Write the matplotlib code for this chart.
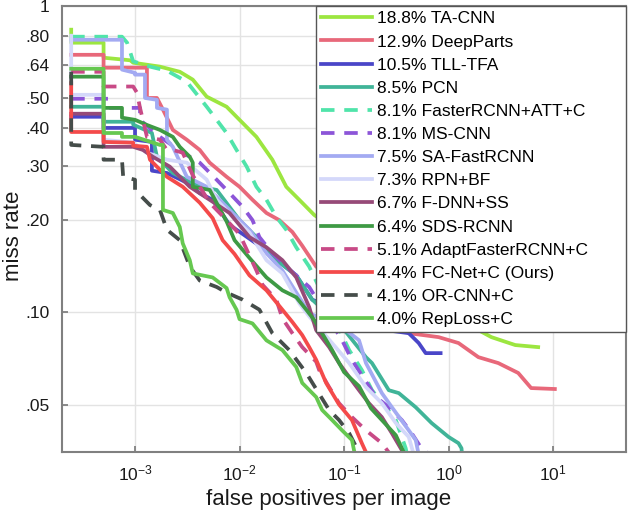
import matplotlib
matplotlib.use("Agg")
import matplotlib.pyplot as plt

plt.rcParams['font.family'] = ['Liberation Sans', 'DejaVu Sans']
plt.rcParams['mathtext.default'] = 'regular'

# miss rate vs fppi curves
TA_CNN_X = [2.45e-4, 2.45e-4, 5.0e-4, 5.0e-4, 9.0e-4, 9.6e-4, 1.73e-3, 2.68e-3, 3.57e-3, 4.85e-3, 7.52e-3, 1.0e-2,
            1.45e-2, 2.06e-2, 2.8e-2, 3.73e-2, 5.18e-2, 1.93, 2.57, 4.35, 7.2]
TA_CNN_Y = [0.837, 0.759, 0.759, 0.678, 0.665, 0.653, 0.634, 0.61, 0.575, 0.506, 0.469, 0.425,
            0.374, 0.315, 0.257, 0.233, 0.208, 0.0875, 0.083, 0.0782, 0.077]

DEEPPARTS_X = [2.45e-4, 5.0e-4, 5.0e-4, 1.3e-3, 1.3e-3, 1.62e-3, 1.85e-3, 2.3e-3, 3.13e-3, 4.16e-3, 5.18e-3, 7.52e-3,
               1.0e-2, 1.33e-2, 1.81e-2, 2.4e-2, 3.2e-2, 3.98e-2, 5.41e-2, 0.416, 0.803, 1.245, 1.93, 2.99, 4.64,
               6.17, 10.4]
DEEPPARTS_Y = [0.693, 0.693, 0.629, 0.629, 0.501, 0.501, 0.459, 0.394, 0.366, 0.339, 0.308, 0.277,
               0.257, 0.233, 0.211, 0.2, 0.183, 0.165, 0.141, 0.0855, 0.083, 0.0794, 0.0714, 0.0683, 0.0634,
               0.0566, 0.0562]

TLL_X = [2.45e-4, 5.0e-4, 5.0e-4, 1.0e-3, 1.0e-3, 1.45e-3, 1.45e-3, 2.02e-3, 3.13e-3, 4.16e-3, 5.53e-3, 8.03e-3,
         1.55e-2, 2.4e-2, 3.49e-2, 4.96e-2, 0.251, 0.416, 0.518, 0.604, 0.839]
TLL_Y = [0.435, 0.435, 0.4, 0.4, 0.366, 0.36, 0.29, 0.285, 0.265, 0.245, 0.233, 0.193,
         0.165, 0.146, 0.132, 0.11, 0.0875, 0.0855, 0.0794, 0.0736, 0.0736]

PCN_X = [2.45e-4, 5.0e-4, 5.0e-4, 9.6e-4, 9.6e-4, 1.45e-3, 1.62e-3, 2.3e-3, 4.16e-3, 6.04e-3, 1.0e-2, 1.55e-2,
         2.25e-2, 3.49e-2, 4.96e-2, 9.57e-2, 0.162, 0.185, 0.268, 0.334, 0.485, 0.689, 1.0, 1.245, 1.33, 1.36]
PCN_Y = [0.469, 0.469, 0.419, 0.419, 0.41, 0.385, 0.322, 0.285, 0.257, 0.251, 0.2, 0.172,
         0.148, 0.132, 0.11, 0.0895, 0.0714, 0.0683, 0.0557, 0.0545, 0.049, 0.0435, 0.0392, 0.0374, 0.036, 0.033]

ATT_X = [2.45e-4, 7.5e-4, 8.4e-4, 9.6e-4, 1.39e-3, 2.02e-3, 3.13e-3, 4.85e-3, 6.04e-3, 7.52e-3, 9.36e-3, 1.17e-2,
         1.45e-2, 1.81e-2, 2.25e-2, 2.8e-2, 3.49e-2, 4.64e-2, 0.112, 0.148, 0.185, 0.251, 0.313, 0.389, 0.41]
ATT_Y = [0.794, 0.794, 0.759, 0.66, 0.634, 0.615, 0.566, 0.469, 0.425, 0.385, 0.339, 0.299,
         0.257, 0.233, 0.205, 0.186, 0.163, 0.141, 0.0753, 0.0648, 0.0557, 0.049, 0.0445, 0.036, 0.033]

MSCNN_X = [2.45e-4, 5.8e-4, 5.8e-4, 1.116e-3, 1.116e-3, 1.73e-3, 2.86e-3, 4.16e-3, 6.04e-3, 8.03e-3, 1.07e-2,
           1.33e-2, 1.55e-2, 2.06e-2, 2.8e-2, 4.64e-2, 9.57e-2, 0.119, 0.202, 0.268, 0.357, 0.444, 0.541, 0.752]
MSCNN_Y = [0.498, 0.498, 0.465, 0.465, 0.425, 0.374, 0.332, 0.308, 0.271, 0.245, 0.221,
           0.2, 0.176, 0.156, 0.141, 0.121, 0.0811, 0.0699, 0.0529, 0.049, 0.0445, 0.0403, 0.0363, 0.033]

SAFAST_X = [2.45e-4, 7.5e-4, 7.5e-4, 1.0e-3, 1.0e-3, 1.245e-3, 1.245e-3, 1.62e-3, 1.62e-3, 2.02e-3, 2.02e-3,
            2.3e-3, 3.13e-3, 4.85e-3, 8.58e-3, 1.245e-2, 1.81e-2, 2.57e-2, 3.73e-2, 4.64e-2, 0.1045, 0.139,
            0.162, 0.23, 0.287, 0.416, 0.485, 0.53]
SAFAST_Y = [0.776, 0.776, 0.62, 0.605, 0.597, 0.597, 0.501, 0.494, 0.465, 0.459, 0.366,
            0.347, 0.277, 0.257, 0.211, 0.186, 0.156, 0.137, 0.112, 0.0995, 0.0875, 0.0811,
            0.0683, 0.0545, 0.049, 0.0412, 0.0383, 0.033]

RPNBF_X = [2.45e-4, 2.45e-4, 5.0e-4, 5.0e-4, 9.6e-4, 1.3e-3, 2.02e-3, 3.13e-3, 4.85e-3, 6.04e-3, 8.58e-3,
           1.245e-2, 1.81e-2, 2.57e-2, 3.73e-2, 4.64e-2, 0.112, 0.162, 0.23, 0.313, 0.416, 0.48]
RPNBF_Y = [0.8, 0.513, 0.513, 0.366, 0.358, 0.332, 0.315, 0.308, 0.271, 0.233, 0.205,
           0.182, 0.148, 0.134, 0.107, 0.097, 0.0683, 0.057, 0.0505, 0.0435, 0.0392, 0.033]

FDNN_X = [2.45e-4, 5.0e-4, 5.0e-4, 9.6e-4, 1.19e-3, 1.48e-3, 2.15e-3, 3.34e-3, 5.18e-3, 8.03e-3, 1.245e-2,
          1.81e-2, 2.57e-2, 3.49e-2, 4.64e-2, 5.41e-2, 7.2e-2, 8.96e-2, 0.112, 0.139, 0.173, 0.23, 0.287, 0.357, 0.37]
FDNN_Y = [0.445, 0.445, 0.347, 0.347, 0.339, 0.322, 0.299, 0.257, 0.233, 0.211, 0.176,
          0.163, 0.148, 0.13, 0.104, 0.0875, 0.077, 0.0683, 0.0615, 0.0557, 0.0505, 0.0455, 0.0403, 0.0355, 0.033]

SDS_X = [2.45e-4, 5.0e-4, 5.0e-4, 7.5e-4, 7.5e-4, 1.0e-3, 1.3e-3, 1.73e-3, 2.3e-3, 2.68e-3, 3.34e-3, 3.57e-3,
         3.57e-3, 5.18e-3, 7.52e-3, 8.96e-3, 1.245e-2, 1.81e-2, 2.57e-2, 3.49e-2, 4.35e-2, 5.18e-2, 7.69e-2,
         0.1, 0.139, 0.181, 0.23, 0.313, 0.373, 0.38]
SDS_Y = [0.588, 0.588, 0.465, 0.465, 0.432, 0.425, 0.409, 0.394, 0.374, 0.347, 0.322, 0.308,
         0.257, 0.251, 0.198, 0.172, 0.1505, 0.13, 0.118, 0.112, 0.102, 0.0944, 0.0753,
         0.0638, 0.0574, 0.0486, 0.0445, 0.0397, 0.0349, 0.033]

ADAPT_X = [2.45e-4, 5.0e-4, 5.0e-4, 9.6e-4, 1.045e-3, 1.116e-3, 1.3e-3, 1.73e-3, 2.02e-3, 2.3e-3, 2.86e-3,
           3.57e-3, 5.18e-3, 7.52e-3, 1.0e-2, 1.45e-2, 1.66e-2, 2.25e-2, 2.57e-2, 3.2e-2, 3.98e-2, 5.41e-2,
           5.78e-2, 7.2e-2, 8.96e-2, 0.119, 0.162, 0.23, 0.268, 0.275]
ADAPT_Y = [0.61, 0.61, 0.546, 0.546, 0.521, 0.465, 0.374, 0.366, 0.339, 0.339, 0.332,
           0.28, 0.228, 0.2, 0.18, 0.137, 0.123, 0.11, 0.0955, 0.0855, 0.077, 0.069,
           0.0648, 0.057, 0.0505, 0.0455, 0.0412, 0.0374, 0.0349, 0.033]

FCNET_X = [2.45e-4, 2.45e-4, 5.0e-4, 5.0e-4, 9.6e-4, 9.6e-4, 1.3e-3, 1.39e-3, 2.02e-3, 2.86e-3, 4.16e-3, 5.53e-3,
           6.89e-3, 8.96e-3, 1.245e-2, 1.81e-2, 2.57e-2, 3.2e-2, 3.98e-2, 4.64e-2, 5.41e-2, 6.74e-2, 8.96e-2,
           0.119, 0.148, 0.175]
FCNET_Y = [0.56, 0.388, 0.388, 0.36, 0.358, 0.35, 0.347, 0.315, 0.277, 0.257, 0.228, 0.203,
           0.172, 0.155, 0.132, 0.118, 0.102, 0.093, 0.0843, 0.077, 0.07, 0.0588, 0.05,
           0.0445, 0.0374, 0.033]

ORCNN_X = [2.45e-4, 2.45e-4, 5.0e-4, 5.0e-4, 7.5e-4, 7.7e-4, 1.0e-3, 1.0e-3, 1.39e-3, 1.73e-3, 2.02e-3, 2.68e-3,
           3.34e-3, 4.16e-3, 6.04e-3, 7.52e-3, 1.07e-2, 1.55e-2, 2.06e-2, 2.99e-2, 4.35e-2, 5.41e-2, 7.2e-2,
           8.96e-2, 0.112, 0.139, 0.142]
ORCNN_Y = [0.61, 0.352, 0.347, 0.315, 0.315, 0.277, 0.271, 0.251, 0.224, 0.216, 0.186, 0.172,
           0.141, 0.127, 0.121, 0.116, 0.11, 0.102, 0.0855, 0.0753, 0.0634, 0.0562, 0.048,
           0.0445, 0.0403, 0.0349, 0.033]

REPLOSS_X = [2.45e-4, 5.0e-4, 5.0e-4, 7.5e-4, 7.5e-4, 1.0e-3, 1.73e-3, 1.85e-3, 1.85e-3, 2.3e-3, 2.68e-3, 2.86e-3,
             3.34e-3, 3.57e-3, 5.53e-3, 7.52e-3, 8.03e-3, 9.36e-3, 1.0e-2, 1.33e-2, 1.81e-2, 2.57e-2, 3.49e-2,
             3.98e-2, 5.41e-2, 6.17e-2, 7.69e-2, 9.57e-2, 0.119, 0.13]
REPLOSS_Y = [0.624, 0.624, 0.385, 0.385, 0.374, 0.374, 0.352, 0.352, 0.216, 0.211, 0.19, 0.168,
             0.148, 0.134, 0.13, 0.12, 0.112, 0.102, 0.095, 0.092, 0.081, 0.0753, 0.0663,
             0.0588, 0.0529, 0.048, 0.0445, 0.0412, 0.0383, 0.033]

LABELS = ['18.8% TA-CNN', '12.9% DeepParts', '10.5% TLL-TFA', '8.5% PCN', '8.1% FasterRCNN+ATT+C',
          '8.1% MS-CNN', '7.5% SA-FastRCNN', '7.3% RPN+BF', '6.7% F-DNN+SS', '6.4% SDS-RCNN',
          '5.1% AdaptFasterRCNN+C', '4.4% FC-Net+C (Ours)', '4.1% OR-CNN+C', '4.0% RepLoss+C']
CURVES = [(TA_CNN_X, TA_CNN_Y), (DEEPPARTS_X, DEEPPARTS_Y), (TLL_X, TLL_Y), (PCN_X, PCN_Y), (ATT_X, ATT_Y),
          (MSCNN_X, MSCNN_Y), (SAFAST_X, SAFAST_Y), (RPNBF_X, RPNBF_Y), (FDNN_X, FDNN_Y), (SDS_X, SDS_Y),
          (ADAPT_X, ADAPT_Y), (FCNET_X, FCNET_Y), (ORCNN_X, ORCNN_Y), (REPLOSS_X, REPLOSS_Y)]
COLORS = ['#9ce640', '#e8687a', '#4a46c8', '#40b498', '#50e4aa', '#8c55d8', '#a3aaf2', '#d4d8fa',
          '#964a78', '#3e9a44', '#c84a86', '#f44a4a', '#454d4a', '#66c850']
DASHED = [False, False, False, False, True, True, False, False, False, False, True, False, True, False]

YTICKS = [0.05, 0.10, 0.20, 0.30, 0.40, 0.50, 0.64, 0.80, 1.0]
YTICKLABELS = ['.05', '.10', '.20', '.30', '.40', '.50', '.64', '.80', '1']
XTICKS = [1e-3, 1e-2, 1e-1, 1e0, 1e1]

fig = plt.figure(figsize=(6.28, 5.14), dpi=100)
ax = fig.add_axes([0.0987, 0.1206, 0.8983, 0.8677])

for (xs, ys), lab, col, dash in zip(CURVES, LABELS, COLORS, DASHED):
    if dash:
        ax.plot(xs, ys, color=col, lw=2.7, label=lab, dashes=(3.6, 2.6))
    else:
        ax.plot(xs, ys, color=col, lw=2.7, label=lab)

ax.set_xscale('log')
ax.set_yscale('log')
ax.set_xlim(2e-4, 50)
ax.set_ylim(0.035, 1)
ax.set_xticks(XTICKS)
ax.set_yticks(YTICKS)
ax.set_yticklabels(YTICKLABELS)
ax.minorticks_off()
ax.grid(True, color='#e3e3e3', lw=1)
ax.set_axisbelow(True)
ax.tick_params(direction='in', length=4, width=1.2, color='#777777', labelsize=12.5, labelcolor='#1a1a1a')
ax.tick_params(axis='x', pad=8)
ax.tick_params(axis='y', pad=9)
for sp in ax.spines.values():
    sp.set_color('#808080')
    sp.set_linewidth(1.5)

ax.set_xlabel('false positives per image', fontsize=16, color='#1a1a1a')
ax.set_ylabel('miss rate', fontsize=16, color='#1a1a1a')
ax.xaxis.set_label_coords(0.473, -0.082)
ax.yaxis.set_label_coords(-0.068, 0.484)

leg = ax.legend(loc='upper right', bbox_to_anchor=(0.45, 0.0, 0.55, 1.0), mode='expand', borderaxespad=0,
                fontsize=12.5, handlelength=2.95, handletextpad=0.25, labelspacing=0.46, borderpad=0.3,
                fancybox=False, framealpha=1, edgecolor='#555555')
leg.get_frame().set_linewidth(1.0)

fig.savefig('out.png', dpi=100)
